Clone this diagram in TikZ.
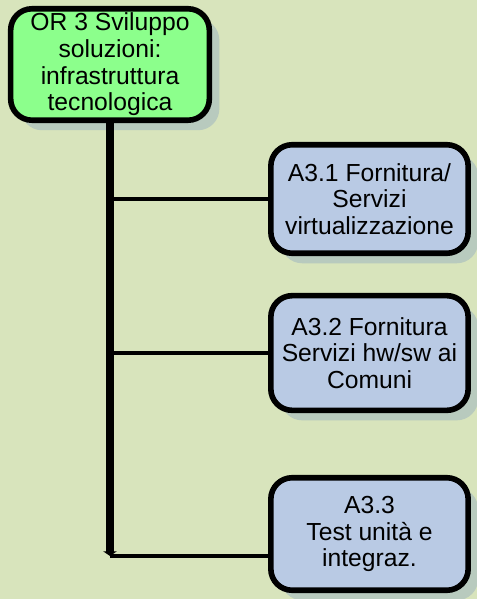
\documentclass[tikz,border=0pt]{standalone}
\usepackage{fontspec}
\setmainfont{Liberation Sans}
\usetikzlibrary{shadows,arrows.meta}
\definecolor{bgc}{RGB}{216,228,188}
\definecolor{grn}{RGB}{140,255,140}
\definecolor{blu}{RGB}{185,202,228}
\definecolor{shd}{RGB}{184,202,190}
\tikzset{
  box/.style={draw=black, line width=4.2pt, rounded corners=16pt, align=center,
    inner sep=2pt, font=\fontsize{18.5}{20}\selectfont,
    drop shadow={shadow xshift=7.5pt, shadow yshift=-7.5pt, fill=shd, opacity=1}},
  orbox/.style={box, fill=grn, minimum width=149pt, minimum height=83.6pt},
  abox/.style={box, fill=blu, minimum width=148pt},
  trunk/.style={line width=5.5pt, -{Triangle[width=10pt,length=3.5pt]}},
  branch/.style={line width=2.4pt},
}
\begin{document}
\begin{tikzpicture}[x=0.75pt,y=-0.75pt]
\fill[bgc] (0,0) rectangle (477,599);
\useasboundingbox (0,0) rectangle (477,599);
\node[orbox] (or) at (110,64.5) {OR 3 Sviluppo\\soluzioni:\\infrastruttura\\tecnologica};
\node[abox, minimum height=81.4pt] (a1) at (369.5,199) {A3.1 Fornitura/\\Servizi\\virtualizzazione};
\node[abox, minimum height=86pt] (a2) at (369.5,353) {A3.2 Fornitura\\Servizi hw/sw ai\\Comuni};
\node[abox, minimum height=84.4pt] (a3) at (369.5,534) {A3.3\\Test unità e\\integraz.};
\coordinate (end) at (110,556);
\draw[branch] (or.south |- a1.west) -- (a1.west);
\draw[branch] (or.south |- a2.west) -- (a2.west);
\draw[branch] (end) -- (end -| a3.west);
\draw[trunk] (or.south) -- (end);
\end{tikzpicture}
\end{document}
